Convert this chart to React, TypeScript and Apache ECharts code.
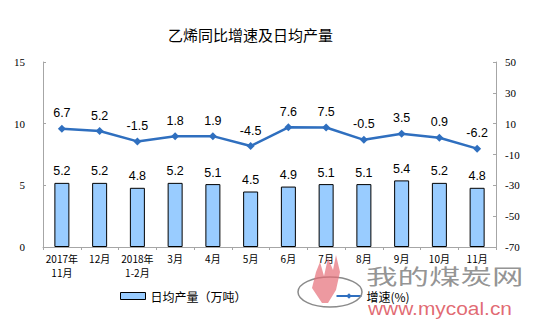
import React, { useEffect, useRef } from "react";
import * as echarts from "echarts";

const categories = ["2017年\n11月", "12月", "2018年\n1-2月", "3月", "4月", "5月", "6月", "7月", "8月", "9月", "10月", "11月"];
const dailyOutput = [5.2, 5.2, 4.8, 5.2, 5.1, 4.5, 4.9, 5.1, 5.1, 5.4, 5.2, 4.8];
const growth = [6.7, 5.2, -1.5, 1.8, 1.9, -4.5, 7.6, 7.5, -0.5, 3.5, 0.9, -6.2];
const rightTicks = [-70, -50, -30, -10, 10, 30, 50];

export default function App() {
  const ref = useRef<HTMLDivElement>(null);
  useEffect(() => {
    if (!ref.current) return;
    const chart = echarts.init(ref.current, null, { renderer: "svg" });
    const axisLineStyle = { color: "#a6a6a6", width: 1 };
    chart.setOption({
      animation: false,
      backgroundColor: "#fff",
      title: {
        text: "乙烯同比增速及日均产量",
        left: 163,
        top: 22,
        textStyle: { fontFamily: "Noto Sans CJK SC", fontSize: 15, fontWeight: "normal", color: "#000" },
      },
      legend: {
        top: 285,
        left: 115,
        itemGap: 89,
        itemWidth: 25,
        itemHeight: 7,
        textStyle: { fontFamily: "Noto Sans CJK SC", fontSize: 12, color: "#000" },
        data: [
          { name: "日均产量（万吨）", icon: "rect", itemStyle: { color: "#99ccff", borderColor: "#000", borderWidth: 1 } },
          { name: "增速(%)" },
        ],
      },
      grid: { left: 43, right: 45, top: 62, bottom: 77 },
      xAxis: {
        type: "category",
        data: categories,
        axisLine: { lineStyle: axisLineStyle },
        axisTick: { show: true, length: 3, lineStyle: axisLineStyle },
        axisLabel: { fontFamily: "Noto Sans CJK SC", fontSize: 10, color: "#000", interval: 0, lineHeight: 14, margin: 4 },
      },
      yAxis: [
        {
          type: "value",
          min: 0,
          max: 15,
          interval: 5,
          axisLine: { show: true, lineStyle: axisLineStyle },
          axisTick: { show: true, inside: true, length: 3, lineStyle: axisLineStyle },
          splitLine: { show: false },
          axisLabel: { fontFamily: "Liberation Serif", fontSize: 11, color: "#000", margin: 18 },
        },
        {
          type: "value",
          min: -70,
          max: 50,
          position: "right",
          axisLine: { show: true, lineStyle: axisLineStyle },
          axisTick: { show: true, inside: true, length: 3, lineStyle: axisLineStyle, customValues: rightTicks },
          splitLine: { show: false },
          axisLabel: { fontFamily: "Liberation Serif", fontSize: 11, color: "#000", margin: 9, customValues: rightTicks },
        },
      ],
      series: [
        {
          name: "日均产量（万吨）",
          type: "bar",
          data: dailyOutput,
          barWidth: 15,
          itemStyle: { color: "#99ccff", borderColor: "#000", borderWidth: 1 },
          label: { show: true, position: "top", distance: 5, fontFamily: "Liberation Sans", fontSize: 12.5, color: "#000" },
        },
        {
          name: "增速(%)",
          type: "line",
          yAxisIndex: 1,
          data: growth,
          symbol: "diamond",
          symbolSize: 8,
          lineStyle: { color: "#2f6fbf", width: 2.5 },
          itemStyle: { color: "#2f6fbf" },
          label: { show: true, position: "top", distance: 5, fontFamily: "Liberation Sans", fontSize: 12.5, color: "#000" },
        },
      ],
      graphic: [
        { type: "ellipse", shape: { cx: 330, cy: 292, rx: 32, ry: 15 }, style: { fill: "none", stroke: "#8a8a8a", lineWidth: 1.5 }, z: 100 },
        {
          type: "polygon",
          shape: { points: [[322, 303], [312, 288], [316, 272], [320, 262], [324, 276], [328, 258], [333, 270], [336, 255], [340, 272], [336, 290], [328, 303]] },
          style: { fill: "rgba(230,110,120,0.7)" },
          z: 101,
        },
        { type: "text", x: 366, y: 264, scaleX: 1.5, style: { text: "我的煤炭网", fontFamily: "Noto Sans CJK SC", fontSize: 21, fill: "rgba(120,120,120,0.8)" }, z: 100 },
        { type: "text", x: 368, y: 299, scaleX: 1.1, style: { text: "www.mycoal.cn", fontFamily: "Liberation Sans", fontSize: 19, fill: "rgba(220,80,90,0.85)" }, z: 100 },
      ],
    });
    return () => chart.dispose();
  }, []);
  return <div ref={ref} style={{ position: "fixed", left: 0, top: 0, width: 541, height: 324 }} />;
}
